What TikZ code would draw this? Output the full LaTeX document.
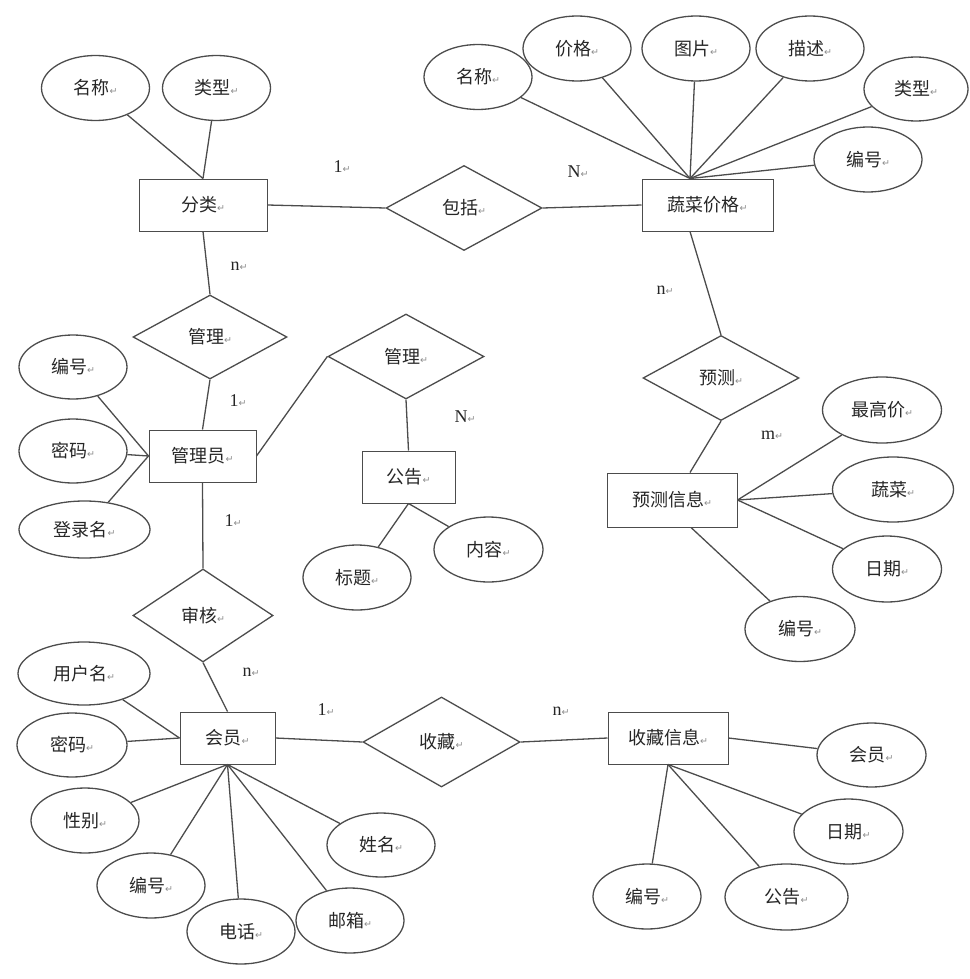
\documentclass[tikz,border=0pt]{standalone}
\usepackage{fontspec}
\setmainfont{Liberation Serif}
\newfontfamily\cjk{Noto Sans CJK SC}
\newfontfamily\arrowfont{DejaVu Sans}
\usetikzlibrary{shapes.geometric}
\newcommand{\retmark}{{\arrowfont\fontsize{9.5}{9.5}\selectfont\color{black!45}↵}}

\begin{document}
\begin{tikzpicture}
[
    x=1pt, y=-1pt,
    every node/.style={line width=1.3pt, text=black!85},
    entity/.style={draw=black!70, line width=1pt, rectangle, minimum width=#1, minimum height=52pt, inner sep=0pt, font=\cjk\fontsize{18}{18}\selectfont},
    entity/.default=120pt,
    attr/.style={draw=black!70, ellipse, minimum width=108pt, minimum height=65pt, inner sep=0pt, font=\cjk\fontsize{18}{18}\selectfont},
    rel/.style={draw=black!70, diamond, minimum width=156pt, minimum height=85pt, inner sep=0pt, font=\cjk\fontsize{18}{18}\selectfont},
    card/.style={inner sep=0pt, font=\fontsize{18}{18}\selectfont},
    link/.style={draw=black!70, line width=1.3pt},
]
\useasboundingbox (0,0) rectangle (969,979);

% category
\node [entity=128pt] (cat) at (203,205) {分类\retmark};
\node [attr] (catname) at (95.5,88) {名称\retmark};
\node [attr] (cattype) at (216.5,88) {类型\retmark};
\node [rel] (incl) at (464,208) {包括\retmark};

% vegetable price
\node [entity=131pt] (veg) at (707.5,205) {蔬菜价格\retmark};
\node [attr] (vname) at (478,77) {名称\retmark};
\node [attr] (vprice) at (577,48.5) {价格\retmark};
\node [attr] (vpic) at (696,48.5) {图片\retmark};
\node [attr] (vdesc) at (810,48.5) {描述\retmark};
\node [attr, minimum width=104pt, minimum height=64pt] (vtype) at (916,89) {类型\retmark};
\node [attr] (vid) at (868,159.5) {编号\retmark};
\coordinate (vegtop) at ([xshift=-17.5pt]veg.north);
\coordinate (vegbot) at ([xshift=-17.5pt]veg.south);

% forecast
\node [rel] (forecast) at (721,378) {预测\retmark};
\node [entity=130pt, minimum height=54pt] (finfo) at (672,500) {预测信息\retmark};
\node [attr, minimum width=119pt, minimum height=66pt] (fmax) at (882,410) {最高价\retmark};
\node [attr, minimum width=121pt] (fveg) at (893,489.5) {蔬菜\retmark};
\node [attr, minimum width=109pt, minimum height=66pt] (fdate) at (887,569) {日期\retmark};
\node [attr, minimum width=110pt] (fid) at (800,629) {编号\retmark};
\coordinate (fintop) at ([xshift=18pt]finfo.north);
\coordinate (finbot) at ([xshift=19pt]finfo.south);

% administrator
\node [rel, minimum width=154pt, minimum height=84pt] (manage1) at (210,337) {管理\retmark};
\node [entity=107pt] (admin) at (202.5,456) {管理员\retmark};
\node [attr, minimum height=64pt] (aid) at (73,367) {编号\retmark};
\node [attr, minimum height=64pt] (apwd) at (73,451) {密码\retmark};
\node [attr, minimum width=131pt, minimum height=57pt] (alogin) at (84.5,529.5) {登录名\retmark};

% notice
\node [rel] (manage2) at (406,356.5) {管理\retmark};
\node [entity=93pt] (notice) at (408.5,477) {公告\retmark};
\node [attr] (ntitle) at (357,577.5) {标题\retmark};
\node [attr, minimum width=109pt] (ncontent) at (488.5,549.5) {内容\retmark};

% member
\node [rel, minimum width=140pt, minimum height=93pt] (audit) at (203,615.5) {审核\retmark};
\node [entity=95pt] (member) at (227.5,738) {会员\retmark};
\node [attr, minimum width=132pt, minimum height=63pt] (muser) at (84,673.5) {用户名\retmark};
\node [attr, minimum width=110pt, minimum height=64pt] (mpwd) at (72,745) {密码\retmark};
\node [attr] (msex) at (85,820.5) {性别\retmark};
\node [attr] (mid) at (151,885.5) {编号\retmark};
\node [attr] (mphone) at (241,931.5) {电话\retmark};
\node [attr] (mmail) at (350,920.5) {邮箱\retmark};
\node [attr, minimum height=64pt] (mreal) at (381,845) {姓名\retmark};

% collection
\node [rel, minimum width=157pt, minimum height=90pt] (collect) at (441.5,742) {收藏\retmark};
\node [entity=120pt] (cinfo) at (668,738) {收藏信息\retmark};
\node [attr, minimum width=109pt, minimum height=64pt] (cmember) at (871.5,755) {会员\retmark};
\node [attr, minimum width=109pt] (cdate) at (848.5,831.5) {日期\retmark};
\node [attr, minimum width=123pt, minimum height=66pt] (cnotice) at (786.5,897) {公告\retmark};
\node [attr] (cid) at (647,896.5) {编号\retmark};

% cardinalities
\node [card] (c1) at (342,167) {1\retmark};
\node [card] (c2) at (578,172) {N\retmark};
\node [card] (c3) at (239,266) {n\retmark};
\node [card] (c4) at (665,290) {n\retmark};
\node [card] (c5) at (772,435) {m\retmark};
\node [card] (c6) at (238,401) {1\retmark};
\node [card] (c7) at (465,417) {N\retmark};
\node [card] (c8) at (233,521) {1\retmark};
\node [card] (c9) at (251,672) {n\retmark};
\node [card] (c10) at (326,710) {1\retmark};
\node [card] (c11) at (561,711) {n\retmark};

% relations
\draw [link] (cat.east) -- (incl.west);
\draw [link] (incl.east) -- (veg.west);
\draw [link] (cat.south) -- (manage1.north);
\draw [link] (manage1.south) -- (admin.north);
\draw [link] (vegbot) -- (forecast.north);
\draw [link] (forecast.south) -- (fintop);
\draw [link] (admin.east) -- (manage2.west);
\draw [link] (manage2.south) -- (notice.north);
\draw [link] (admin.south) -- (audit.north);
\draw [link] (audit.south) -- (member.north);
\draw [link] (member.east) -- (collect.west);
\draw [link] (collect.east) -- (cinfo.west);

% attributes
\draw [link] (catname) -- (cat.north);
\draw [link] (cattype) -- (cat.north);
\foreach \a in {vname, vprice, vpic, vdesc, vtype, vid}
    \draw [link] (\a) -- (vegtop);
\foreach \a in {fmax, fveg, fdate}
    \draw [link] (\a) -- (finfo.east);
\draw [link] (fid) -- (finbot);
\foreach \a in {aid, apwd, alogin}
    \draw [link] (\a) -- (admin.west);
\draw [link] (ntitle) -- (notice.south);
\draw [link] (ncontent) -- (notice.south);
\draw [link] (muser) -- (member.west);
\draw [link] (mpwd) -- (member.west);
\foreach \a in {msex, mid, mphone, mmail, mreal}
    \draw [link] (\a) -- (member.south);
\draw [link] (cmember) -- (cinfo.east);
\foreach \a in {cdate, cnotice, cid}
    \draw [link] (\a) -- (cinfo.south);
\end{tikzpicture}
\end{document}
